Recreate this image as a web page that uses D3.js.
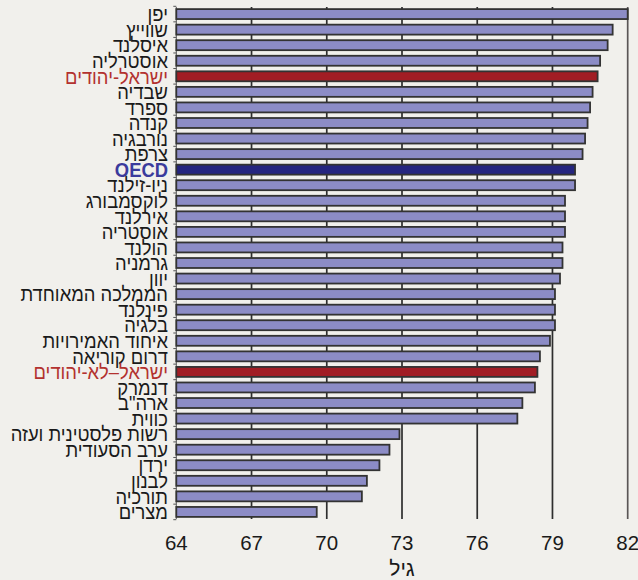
<!DOCTYPE html>
<html><head><meta charset="utf-8">
<script src="https://cdn.jsdelivr.net/npm/d3@7"></script>
<style>
html,body{margin:0;padding:0;background:#f1f0ec;}
svg{display:block;}
</style></head>
<body>
<svg id="chart" width="638" height="580"></svg>
<script>
const countries = ["יפן","שווייץ","איסלנד","אוסטרליה","ישראל-יהודים","שבדיה","ספרד","קנדה","נורבגיה","צרפת","OECD","ניו-זילנד","לוקסמבורג","אירלנד","אוסטריה","הולנד","גרמניה","יוון","הממלכה המאוחדת","פינלנד","בלגיה","איחוד האמירויות","דרום קוריאה","ישראל–לא-יהודים","דנמרק","ארה\"ב","כווית","רשות פלסטינית ועזה","ערב הסעודית","ירדן","לבנון","תורכיה","מצרים"];
const lifeExpectancy = [82.0,81.4,81.2,80.9,80.8,80.6,80.5,80.4,80.3,80.2,79.9,79.9,79.5,79.5,79.5,79.4,79.4,79.3,79.1,79.1,79.1,78.9,78.5,78.4,78.3,77.8,77.6,72.9,72.5,72.1,71.6,71.4,69.6];
const israelRows = ["ישראל-יהודים","ישראל–לא-יהודים"];
const oecdRow = "OECD";
const xTicks = [64,67,70,73,76,79,82];
const axisTitle = "גיל";

const data = countries.map((c,i)=>({name:c,value:lifeExpectancy[i]}));
const svg = d3.select("#chart");
const x = d3.scaleLinear().domain([64,82]).range([176.3,627.7]);
const y = d3.scaleBand().domain(countries).range([6.3,519.7]).paddingInner(0.36).paddingOuter(0.18);

// gridlines
svg.append("g").selectAll("line").data(xTicks.slice(1)).join("line")
  .attr("x1",d=>x(d)).attr("x2",d=>x(d))
  .attr("y1",7).attr("y2",519)
  .attr("stroke",d=>d===82?"#5a5656":"#2e2e2e").attr("stroke-width",1.7);

// left axis with small ticks
const left = svg.append("g");
left.append("line").attr("x1",x(64)).attr("x2",x(64)).attr("y1",7).attr("y2",519)
  .attr("stroke","#555").attr("stroke-width",1);
const step = y.step();
const tickYs = countries.map(c=>y(c)-(step-y.bandwidth())/2).concat([y(countries[countries.length-1])+y.bandwidth()+(step-y.bandwidth())/2]);
left.selectAll("line.t").data(tickYs).join("line").attr("class","t")
  .attr("x1",x(64)-3).attr("x2",x(64)).attr("y1",d=>d).attr("y2",d=>d)
  .attr("stroke","#555").attr("stroke-width",1);

// bars
svg.append("g").selectAll("rect").data(data).join("rect")
  .attr("x",x(64)).attr("y",d=>y(d.name))
  .attr("width",d=>x(d.value)-x(64)).attr("height",y.bandwidth())
  .attr("fill",d=>israelRows.includes(d.name)?"#a11d24":(d.name===oecdRow?"#25257f":"#8c8cc6"))
  .attr("stroke","#333").attr("stroke-width",1.8);

// category labels
svg.append("g").selectAll("text").data(data).join("text")
  .attr("transform",d=>`translate(168,${y(d.name)+y.bandwidth()/2}) scale(0.92,1)`)
  .attr("dy","0.36em").attr("text-anchor","end")
  .attr("font-family","Liberation Sans, Arial, sans-serif")
  .attr("font-size",20)
  .attr("font-weight",d=>d.name===oecdRow?"bold":"normal")
  .attr("fill",d=>israelRows.includes(d.name)?"#b3322f":(d.name===oecdRow?"#3b3b9c":"#1a1a1a"))
  .text(d=>d.name);

// x tick labels
svg.append("g").selectAll("text").data(xTicks).join("text")
  .attr("x",d=>x(d)).attr("y",550).attr("text-anchor","middle")
  .attr("font-family","Liberation Sans, Arial, sans-serif").attr("font-size",20.5)
  .attr("fill","#1a1a1a").text(d=>d);

svg.append("text").attr("x",x(73)).attr("y",576).attr("text-anchor","middle")
  .attr("font-family","Liberation Sans, Arial, sans-serif").attr("font-size",21)
  .attr("fill","#1a1a1a").text(axisTitle);
</script>
</body></html>
